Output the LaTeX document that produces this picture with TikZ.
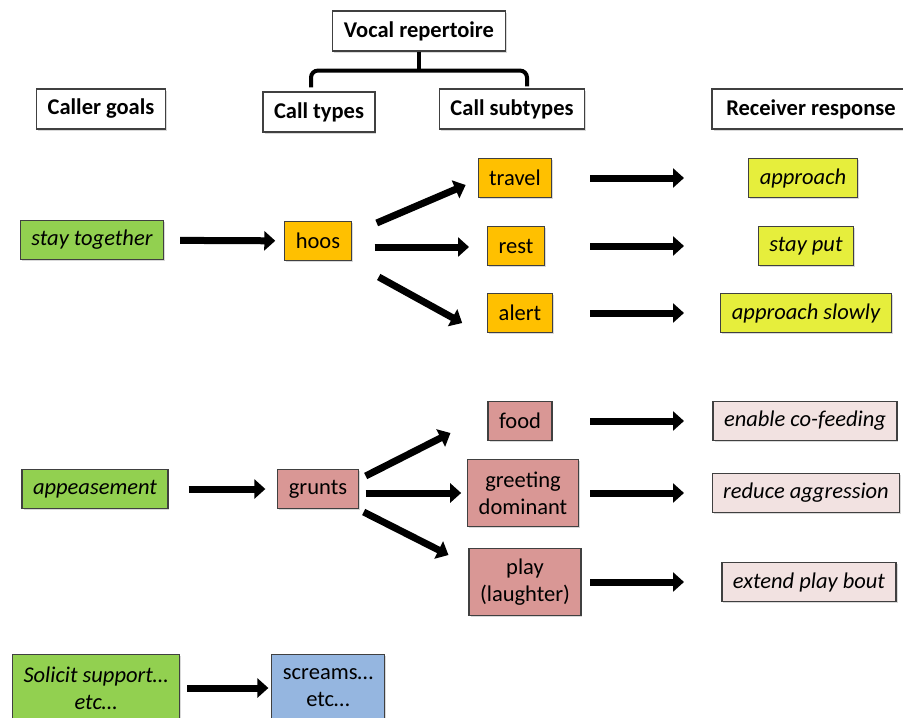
\documentclass[tikz,border=0pt]{standalone}
\usepackage{fontspec}
\setmainfont{Carlito}
\usetikzlibrary{arrows.meta,shadows}

\definecolor{goalGreen}{HTML}{92D050}
\definecolor{hooOrange}{HTML}{FFC000}
\definecolor{hooResponse}{HTML}{E6EE3C}
\definecolor{gruntPink}{HTML}{D99795}
\definecolor{gruntResponse}{HTML}{F2E2E1}
\definecolor{screamBlue}{HTML}{95B6E0}
\definecolor{boxLine}{HTML}{404040}

\tikzstyle{baseBox} = [draw=boxLine, line width=1.1pt, inner xsep=11pt, inner ysep=5pt, minimum height=39pt, align=center, drop shadow={opacity=0.3, shadow xshift=1.5pt, shadow yshift=-1.5pt}]
\tikzstyle{headerPart} = [baseBox, fill=white, font=\bfseries, minimum height=40pt]
\tikzstyle{goalPart} = [baseBox, fill=goalGreen, font=\itshape]
\tikzstyle{hooPart} = [baseBox, fill=hooOrange]
\tikzstyle{hooRespPart} = [baseBox, fill=hooResponse, font=\itshape]
\tikzstyle{gruntPart} = [baseBox, fill=gruntPink]
\tikzstyle{gruntRespPart} = [baseBox, fill=gruntResponse, font=\itshape]
\tikzstyle{screamPart} = [baseBox, fill=screamBlue]
\tikzstyle{tallBox} = [minimum height=67pt]
\tikzstyle{bigArrow} = [line width=7pt, -{Triangle[length=11pt 0, width=19pt 0]}]
\tikzstyle{bracketLine} = [line width=4pt, rounded corners=7pt]

\begin{document}
\fontsize{22.5}{27}\selectfont
\begin{tikzpicture}[x=1pt, y=-1pt]
		\useasboundingbox (0,0) rectangle (903,718);
		\clip (0,0) rectangle (903,718);

		% Headings
		\node (vocal) [headerPart] at (419,31) {Vocal repertoire};
		\node (callerGoals) [headerPart] at (101,109) {Caller goals};
		\node (callTypes) [headerPart] at (319,112) {Call types};
		\node (callSubtypes) [headerPart] at (512,109) {Call subtypes};
		\node (receiverResp) [headerPart, minimum width=198pt] at (811,109) {Receiver response};

		% Bracket under the repertoire
		\path (vocal.south)+(0,19) coordinate (braceMid);
		\path (callTypes.north)+(-8,-4) coordinate (braceLeft);
		\path (callSubtypes.north)+(15,-2) coordinate (braceRight);
		\draw [bracketLine] (braceLeft) |- (braceMid) -| (braceRight);
		\draw [bracketLine] (vocal) -- (braceMid);

		% Hoos
		\node (stayTogether) [goalPart] at (92,240) {stay together};
		\path (stayTogether)+(226,1) node (hoos) [hooPart] {hoos};
		\path (hoos)+(197,-63) node (travel) [hooPart] {travel};
		\path (hoos)+(198,5) node (rest) [hooPart] {rest};
		\path (hoos)+(202,72) node (alert) [hooPart] {alert};
		\path (travel)+(288,0) node (approach) [hooRespPart] {approach};
		\path (rest)+(290,0) node (stayPut) [hooRespPart] {stay put};
		\path (alert)+(286,0) node (approachSlowly) [hooRespPart] {approach slowly};

		% Grunts
		\node (appeasement) [goalPart] at (95,489) {appeasement};
		\path (appeasement)+(223,0) node (grunts) [gruntPart] {grunts};
		\path (grunts)+(202,-68) node (food) [gruntPart] {food};
		\path (grunts)+(205,4) node (greeting) [gruntPart, tallBox] {greeting\\dominant};
		\path (grunts)+(207,93) node (play) [gruntPart, tallBox] {play\\(laughter)};
		\path (food)+(285,0) node (coFeeding) [gruntRespPart] {enable co-feeding};
		\path (greeting)+(283,0) node (reduceAggr) [gruntRespPart] {reduce aggression};
		\path (play)+(284,0) node (playBout) [gruntRespPart] {extend play bout};

		% Screams
		\node (solicit) [goalPart, tallBox] at (96,688) {Solicit support…\\etc…};
		\path (solicit)+(232,0) node (screams) [screamPart, tallBox] {screams…\\etc…};

		% Goal to call type
		\draw [bigArrow, shorten <=16pt, shorten >=9pt] (stayTogether) -- (hoos);
		\draw [bigArrow, shorten <=20pt, shorten >=12pt] (appeasement) -- (grunts);
		\draw [bigArrow, shorten <=7pt, shorten >=3pt] (solicit) -- (screams);

		% Helpers to locate the fanning arrows
		\path (hoos.east)+(25,-18) coordinate (hoosUp);
		\path (hoos.east)+(23,6) coordinate (hoosMid);
		\path (hoos.east)+(27,36) coordinate (hoosDown);
		\path (travel.west)+(-12,7) coordinate (travelIn);
		\path (rest.west)+(-18,1) coordinate (restIn);
		\path (alert.west)+(-25,10) coordinate (alertIn);
		\path (grunts.east)+(7,-13) coordinate (gruntsUp);
		\path (grunts.east)+(7,4) coordinate (gruntsMid);
		\path (grunts.east)+(5,23) coordinate (gruntsDown);
		\path (food.west)+(-37,12) coordinate (foodIn);
		\path (greeting.west)+(-6,0) coordinate (greetingIn);
		\path (play.west)+(-20,-27) coordinate (playIn);

		\draw [bigArrow] (hoosUp) -- (travelIn);
		\draw [bigArrow] (hoosMid) -- (restIn);
		\draw [bigArrow] (hoosDown) -- (alertIn);
		\draw [bigArrow] (gruntsUp) -- (foodIn);
		\draw [bigArrow] (gruntsMid) -- (greetingIn);
		\draw [bigArrow] (gruntsDown) -- (playIn);

		% Subtype to response
		\coordinate (arrowFrom) at (590,0);
		\coordinate (arrowTo) at (684,0);
		\foreach \from/\to in {travel/approach, rest/stayPut, alert/approachSlowly, food/coFeeding, greeting/reduceAggr, play/playBout}
			\draw [bigArrow] (\from -| arrowFrom) -- (\to -| arrowTo);

	\end{tikzpicture}
\end{document}
